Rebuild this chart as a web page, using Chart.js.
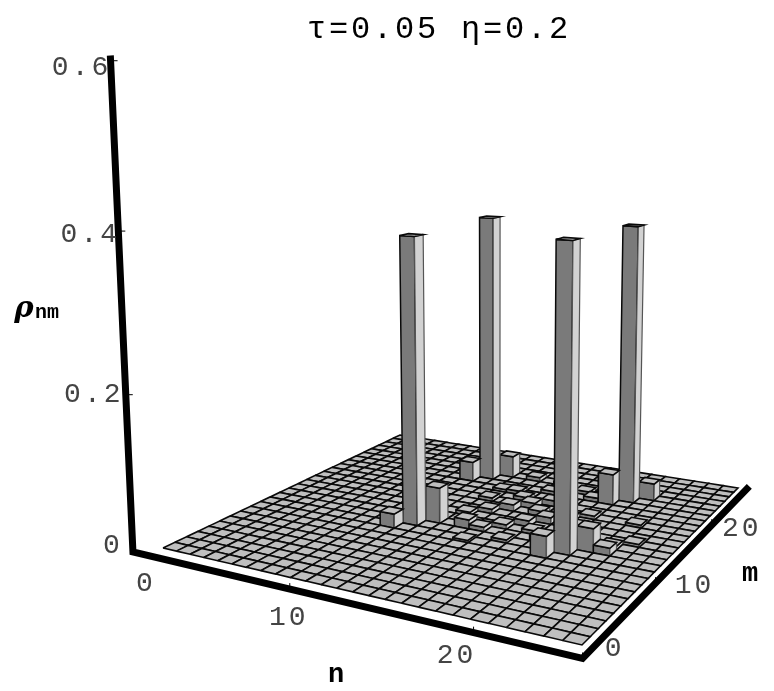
<!DOCTYPE html>
<html>
<head>
<meta charset="utf-8">
<title>density matrix</title>
<script src="https://cdn.jsdelivr.net/npm/chart.js@4"></script>
<style>
    html, body { margin: 0; padding: 0; background: #fff; }
    canvas { display: block; }
</style>
</head>
<body>
<canvas id="myChart" width="774" height="691"></canvas>
<script>
// number of cells along each floor edge
const gridSize = 26;

// tall peaks and their diagonal neighbours
const barN = [11, 21, 11, 21, 10, 12, 20, 22, 10, 12, 20, 22];
const barM = [11, 11, 21, 21, 10, 12, 10, 12, 20, 22, 20, 22];
const barRho = [0.382, 0.39, 0.384, 0.384, 0.019, 0.048, 0.028, 0.031, 0.028, 0.031, 0.043, 0.024];

// small ripples between the peaks
const rippleN = [14, 15, 23, 13, 16, 17, 18, 19, 14, 15, 17, 18, 13, 16, 19, 15, 17, 14, 18, 16, 24, 23, 13, 19, 20, 18, 16, 14, 23, 17, 20, 15];
const rippleM = [12, 12, 12, 14, 13, 14, 13, 12, 15, 16, 16, 15, 17, 17, 16, 18, 18, 19, 18, 20, 14, 13, 19, 20, 15, 21, 22, 22, 17, 11, 17, 10];
const rippleRho = [0.012, 0.006, 0.01, 0.005, 0.006, 0.008, 0.005, 0.007, 0.006, 0.009, 0.007, 0.009, 0.005, 0.008, 0.006, 0.006, 0.008, 0.005, 0.006, 0.005, 0.004, 0.005, 0.004, 0.006, 0.005, 0.005, 0.004, 0.006, 0.004, 0.004, 0.005, 0.003];

// axis ticks
const rhoTicks = [0, 0.2, 0.4, 0.6];
const rhoTickLabels = ['0', '0.2', '0.4', '0.6'];
const nTicks = [0, 10, 20];
const mTicks = [0, 10, 20];

const topColor = '#bfbfbf';
const darkColor = '#7a7a7a';
const lightColor = '#d2d2d2';
const edgeColor = '#0a0a0a';

const titleHeight = 46.4;
const plotLeft = 104;

// perspective fitted to the floor corners and the leaning vertical axis
function project(n, m, rho) {
    const u = n / gridSize;
    const v = m / gridSize;
    const w = -0.1725 * u + 0.3193 * v + 1;
    const x = (318.6 * u + 364.7 * v + 163) / w;
    const y = (-14.3 * u + 25.9 * v + 548) / w;
    const t = -0.0962 * rho / w;
    const s = t / (1 + t);
    return { x: x + (495 - x) * s, y: y + (8500 - y) * s };
}

// axis box in floor units
const nStart = -1.09;
const nEnd = 26.57;
const mStart = -1.27;
const mEnd = 26.66;
const nUnit = 1.097;
const mUnit = 0.988;

function polygon(points, color, borderWidth) {
    return {
        data: points.concat([points[0]]),
        fill: 'shape',
        backgroundColor: color,
        borderColor: edgeColor,
        borderWidth: borderWidth,
        pointRadius: 0,
        showLine: true,
        tension: 0,
        clip: false
    };
}

function polyline(points, borderWidth) {
    return {
        data: points,
        fill: false,
        borderColor: '#000',
        borderWidth: borderWidth,
        borderJoinStyle: 'miter',
        pointRadius: 0,
        showLine: true,
        tension: 0,
        clip: false
    };
}

// sparse values into a lookup table
const heights = {};
barN.forEach(function(n, i) { heights[n + '_' + barM[i]] = barRho[i]; });
rippleN.forEach(function(n, i) { heights[n + '_' + rippleM[i]] = rippleRho[i]; });

const layers = [];

// the axes go down first
layers.push(polyline([
    project(nStart, mStart, 0.606),
    project(nStart, mStart, 0),
    project(nEnd, mStart, 0),
    project(nEnd, mEnd, 0)
], 7));

for (const rho of rhoTicks) {
    const base = project(nStart, mStart, rho);
    layers.push(polyline([base, { x: base.x + 7, y: base.y }], 1));
}
for (const tick of nTicks) {
    const base = project(nStart + tick * nUnit, mStart, 0);
    layers.push(polyline([base, { x: base.x, y: base.y - 6 }], 1));
}
for (const tick of mTicks) {
    const base = project(nEnd, mStart + tick * mUnit, 0);
    layers.push(polyline([base, { x: base.x, y: base.y - 6 }], 1));
}

// back to front: far corner is low n, high m
for (let m = gridSize; m >= 1; m--) {
    for (let n = 1; n <= gridSize; n++) {
        const rho = heights[n + '_' + m] || 0;
        if (rho > 0) {
            layers.push(polygon([
                project(n - 1, m - 1, 0), project(n, m - 1, 0),
                project(n, m - 1, rho), project(n - 1, m - 1, rho)
            ], darkColor, 1.5));
            const lightFace = polygon([
                project(n, m - 1, 0), project(n, m, 0),
                project(n, m, rho), project(n, m - 1, rho)
            ], lightColor, 1.2);
            lightFace.borderColor = '#555';
            layers.push(lightFace);
        }
        layers.push(polygon([
            project(n - 1, m - 1, rho), project(n, m - 1, rho),
            project(n, m, rho), project(n - 1, m, rho)
        ], topColor, 1.6));
    }
}

// chart.js paints the first dataset last
layers.reverse();

const tickFont = '28px "Liberation Mono"';
const tickColor = '#444';
const nameFont = 'bold 27px "Liberation Mono"';

const textPlugin = {
    id: 'axisText',
    beforeDraw: function(chart) {
        chart.ctx.letterSpacing = '2.8px';
    },
    afterDatasetsDraw: function(chart) {
        const ctx = chart.ctx;
        const xScale = chart.scales.x;
        const yScale = chart.scales.y;

        function put(text, px, py, font, color, spacing) {
            ctx.font = font;
            ctx.fillStyle = color;
            ctx.letterSpacing = spacing;
            ctx.textAlign = 'center';
            ctx.textBaseline = 'middle';
            ctx.fillText(text, xScale.getPixelForValue(px), yScale.getPixelForValue(py));
        }

        ctx.save();
        const rhoShift = [[-20, -6], [-32, 0], [-28, 4], [-29, 7]];
        rhoTicks.forEach(function(rho, i) {
            const p = project(nStart, mStart, rho);
            put(rhoTickLabels[i], p.x + rhoShift[i][0], p.y + rhoShift[i][1], tickFont, tickColor, '3px');
        });
        const nShift = [[13, 32], [-1, 28], [-17, 23]];
        nTicks.forEach(function(tick, i) {
            const p = project(nStart + tick * nUnit, mStart, 0);
            put(String(tick), p.x + nShift[i][0], p.y + nShift[i][1], tickFont, tickColor, '3px');
        });
        const mShift = [[32, -10], [39, 2], [30, 3]];
        mTicks.forEach(function(tick, i) {
            const p = project(nEnd, mStart + tick * mUnit, 0);
            put(String(tick), p.x + mShift[i][0], p.y + mShift[i][1], tickFont, tickColor, '3px');
        });

        put('n', 336, 675, nameFont, '#000', '0px');
        put('m', 750, 574, nameFont, '#000', '0px');
        put('ρ', 24, 309, 'italic bold 29px "DejaVu Serif"', '#000', '0px');
        put('nm', 47, 313, 'bold 20px "Liberation Mono"', '#000', '0px');
        ctx.restore();
    }
};

const myChart = new Chart('myChart', {
    type: 'scatter',
    data: { datasets: layers },
    plugins: [textPlugin],
    options: {
        responsive: false,
        animation: false,
        events: [],
        layout: { padding: { left: plotLeft, right: 0, top: 0, bottom: 0 } },
        plugins: {
            legend: { display: false },
            tooltip: { enabled: false },
            title: {
                display: true,
                fullSize: false,
                text: 'τ=0.05 η=0.2',
                color: '#000',
                font: { family: '"Liberation Mono"', size: 32, weight: 'normal', lineHeight: 1.2 },
                padding: { top: 10, bottom: 0 }
            }
        },
        scales: {
            x: { type: 'linear', display: false, min: plotLeft, max: 774 },
            y: { type: 'linear', display: false, reverse: true, min: titleHeight + 2, max: 691 }
        }
    }
});
</script>
</body>
</html>
